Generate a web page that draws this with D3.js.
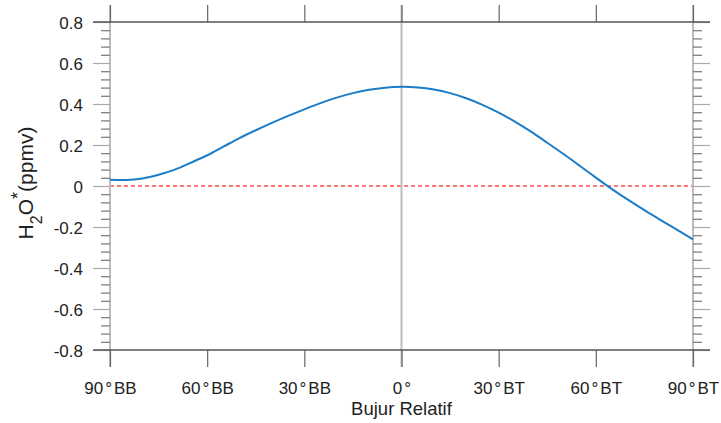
<!DOCTYPE html>
<html>
<head>
<meta charset="utf-8">
<script src="https://cdn.jsdelivr.net/npm/d3@7"></script>
<style>
  html, body { margin: 0; padding: 0; background: #fff; }
  svg { display: block; font-family: "Liberation Sans", Arial, Helvetica, sans-serif; }
</style>
</head>
<body>
<svg id="chart" width="721" height="423"></svg>
<script>
// ---- data ----
const longitudes = [-90,-85,-80,-75,-70,-65,-60,-55,-50,-45,-40,-35,-30,-25,-20,-15,-10,-5,0,5,10,15,20,25,30,35,40,45,50,55,60,65,70,75,80,85,90];
const h2oValues  = [0.031,0.029,0.037,0.055,0.080,0.114,0.150,0.192,0.234,0.272,0.308,0.342,0.374,0.404,0.431,0.453,0.469,0.479,0.484,0.481,0.471,0.453,0.428,0.396,0.358,0.314,0.265,0.211,0.156,0.099,0.041,-0.015,-0.068,-0.118,-0.166,-0.213,-0.260];
const xTickValues = [-90,-60,-30,0,30,60,90];
const xTickLabels = [["90","BB"],["60","BB"],["30","BB"],["0",""],["30","BT"],["60","BT"],["90","BT"]];
const yTickValues = [-0.8,-0.6,-0.4,-0.2,0,0.2,0.4,0.6,0.8];
const yTickLabels = ["-0.8","-0.6","-0.4","-0.2","0","0.2","0.4","0.6","0.8"];
const yMinorValues = d3.range(-40, 41, 2).map(d => d / 50).filter(v => Math.abs(Math.round(v * 5) - v * 5) > 1e-6);
const xTitle = "Bujur Relatif";

// ---- layout ----
const svg = d3.select("#chart");
const L = 110, R = 693, T = 22, B = 350;
const x = d3.scaleLinear().domain([-90, 90]).range([L, R]);
const y = d3.scaleLinear().domain([-0.8, 0.8]).range([B, T]);
const MAJ = 17, MIN = 9;
const tickColor = "#666";

function styleAxis(g, color) {
  g.select(".domain").remove();
  g.selectAll(".tick line").attr("stroke", color).attr("stroke-width", 1.2);
  g.selectAll("text").attr("fill", "#222").style("font-size", "17px")
    .attr("font-family", "'Liberation Sans', Arial, Helvetica, sans-serif");
}

// zero reference line (red dashed)
svg.append("line")
  .attr("x1", x(-90)).attr("x2", x(90))
  .attr("y1", y(0)).attr("y2", y(0))
  .attr("stroke", "#ff4a4a").attr("stroke-width", 1.6)
  .attr("stroke-dasharray", "4,3");

// vertical light grey lines at -90, 0, 90
svg.selectAll("line.vref").data([-90, 0, 90]).enter().append("line")
  .attr("class", "vref")
  .attr("x1", d => x(d)).attr("x2", d => x(d))
  .attr("y1", T - MAJ).attr("y2", B + MAJ)
  .attr("stroke", "#bdbdbd").attr("stroke-width", 2);

// left axis: minor + major
svg.append("g").attr("transform", `translate(${L},0)`)
  .call(d3.axisLeft(y).tickValues(yMinorValues).tickSize(MIN).tickFormat(""))
  .call(g => styleAxis(g, "#777"));
svg.append("g").attr("transform", `translate(${L},0)`)
  .call(d3.axisLeft(y).tickValues(yTickValues).tickSize(MAJ).tickPadding(10)
    .tickFormat((d, i) => yTickLabels[i]))
  .call(g => styleAxis(g, "#aaa"))
  .call(g => g.selectAll("text").attr("dy", "0.36em"));

// right axis: minor + major
svg.append("g").attr("transform", `translate(${R},0)`)
  .call(d3.axisRight(y).tickValues(yMinorValues).tickSize(MIN).tickFormat(""))
  .call(g => styleAxis(g, "#777"));
svg.append("g").attr("transform", `translate(${R},0)`)
  .call(d3.axisRight(y).tickValues(yTickValues).tickSize(MAJ).tickFormat(""))
  .call(g => styleAxis(g, "#aaa"));

// top axis
svg.append("g").attr("transform", `translate(0,${T})`)
  .call(d3.axisTop(x).tickValues(xTickValues).tickSize(MAJ).tickFormat(""))
  .call(g => styleAxis(g, tickColor));

// bottom axis
const bx = svg.append("g").attr("transform", `translate(0,${B})`)
  .call(d3.axisBottom(x).tickValues(xTickValues).tickSize(MAJ).tickFormat(""))
  .call(g => styleAxis(g, tickColor));
bx.selectAll(".tick").each(function(d, i) {
  const lab = xTickLabels[i];
  const t = d3.select(this).append("text")
    .attr("y", 44).attr("text-anchor", "middle").attr("fill", "#222")
    .style("font-size", "17px");
  t.append("tspan").text(lab[0]);
  t.append("tspan").attr("dx", 2).text("\u00b0");
  if (lab[1]) t.append("tspan").attr("dx", 2).text(lab[1]);
});

// frame top and bottom (extend like major ticks)
svg.selectAll("line.hframe").data([0.8, -0.8]).enter().append("line")
  .attr("class", "hframe")
  .attr("x1", L - MAJ).attr("x2", R + MAJ)
  .attr("y1", d => y(d)).attr("y2", d => y(d))
  .attr("stroke", "#555").attr("stroke-width", 1.3);

// data line
const line = d3.line().x((d, i) => x(longitudes[i])).y(d => y(d)).curve(d3.curveCatmullRom);
svg.append("path").datum(h2oValues)
  .attr("d", line).attr("fill", "none")
  .attr("stroke", "#1b7cc8").attr("stroke-width", 2);

// x title
svg.append("text").attr("x", x(0)).attr("y", 415)
  .attr("text-anchor", "middle").attr("fill", "#222")
  .style("font-size", "18.5px").text(xTitle);

// y title: H2O*(ppmv)
const yt = svg.append("text")
  .attr("transform", "translate(33,183) rotate(-90)")
  .attr("text-anchor", "middle").attr("fill", "#222")
  .style("font-size", "21px");
yt.append("tspan").text("H");
yt.append("tspan").attr("dy", 9).style("font-size", "16px").text("2");
yt.append("tspan").attr("dy", -9).text("O");
yt.append("tspan").attr("dy", -9).style("font-size", "18px").text("*");
yt.append("tspan").attr("dy", 9).text("(ppmv)");
</script>
</body>
</html>
